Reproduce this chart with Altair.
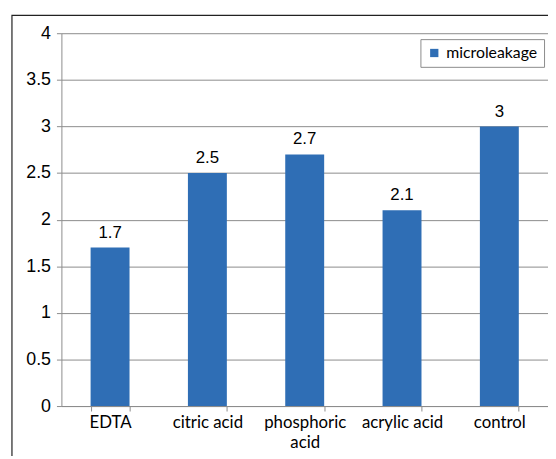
import altair as alt
import pandas as pd

categories = ["EDTA", "citric acid", "phosphoric acid", "acrylic acid", "control"]
values = [1.7, 2.5, 2.7, 2.1, 3.0]
series = ["microleakage"] * 5

df = pd.DataFrame({"cat": categories, "val": values, "series": series})

W, H = 492, 377
BLUE = "#2F6EB5"

x = alt.X("cat:N", sort=categories, title=None,
          scale=alt.Scale(paddingInner=0.6, paddingOuter=0.3),
          axis=alt.Axis(labelAngle=0, tickBand="extent", domainColor="#8c8c8c", tickColor="#8c8c8c",
                        tickSize=5, labelPadding=4, labelFont="Lato", labelFontSize=17, labelColor="#000",
                        labelLimit=200, labelLineHeight=20,
                        labelExpr="datum.label == 'phosphoric acid' ? ['phosphoric', 'acid'] : datum.label"))
y = alt.Y("val:Q", title=None,
          scale=alt.Scale(domain=[0, 4], nice=False),
          axis=alt.Axis(values=[0, 0.5, 1, 1.5, 2, 2.5, 3, 3.5, 4], grid=True, gridColor="#8c8c8c",
                        domainColor="#8c8c8c", tickColor="#8c8c8c", tickSize=5, labelPadding=6,
                        labelFont="Liberation Sans", labelFontSize=18, labelColor="#000",
                        labelExpr="datum.value"))

bars = alt.Chart(df).mark_bar(color=BLUE).encode(
    x=x, y=y,
    color=alt.Color("series:N", scale=alt.Scale(range=[BLUE]), title=None,
                    legend=alt.Legend(orient="none", legendX=363, legendY=6, symbolType="square",
                                      symbolSize=70, labelFont="Lato", labelFontSize=16, labelColor="#000",
                                      strokeColor="#8c8c8c", fillColor="white", padding=6))
)

labels = alt.Chart(df).mark_text(dy=-10, baseline="alphabetic", font="Liberation Sans", fontSize=17,
                                 color="#000").encode(
    x=alt.X("cat:N", sort=categories), y="val:Q", text=alt.Text("val:Q", format="~g")
)

frame_df = pd.DataFrame({"a": [0]})
frame = alt.Chart(frame_df).mark_rect(fill=None, stroke="#222", strokeWidth=1.2).encode(
    x=alt.value(-50), x2=alt.value(W + 100), y=alt.value(-18), y2=alt.value(H + 200)
)

chart = alt.layer(bars, labels, frame).properties(
    width=W, height=H,
    padding={"left": 54, "top": 23, "right": 0, "bottom": 48},
    autosize=alt.AutoSizeParams(type="none"),
).configure_view(stroke=None)

chart.save("out.html", embed_options={"renderer": "svg", "actions": False})
